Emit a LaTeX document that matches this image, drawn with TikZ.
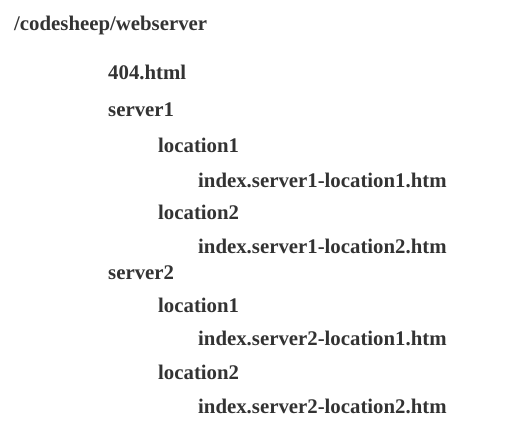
\documentclass[tikz,border=0pt]{standalone}
\usepackage{fontspec}
\setmainfont{Liberation Serif}
\usepackage{tikz}
\usetikzlibrary{positioning}
\definecolor{textgray}{HTML}{333333}

\begin{document}
\begin{tikzpicture}[
    x=1pt, y=1pt,
    entry/.style={anchor=base west, inner sep=0pt, text=textgray,
        font=\fontsize{20.8}{25}\selectfont\bfseries}
]
\useasboundingbox (0,0) rectangle (530,-432);

% Root directory
\node[entry] (root) at (14,-30) {/codesheep/webserver};

% Level 1
\node[entry] (page404) at (108,-79) {404.html};
\node[entry] (serverone) at (108,-116) {server1};
\node[entry] (servertwo) at (108,-279) {server2};

% Level 2 (server1)
\node[entry] (onelocone) at (158,-152) {location1};
\node[entry] (oneloctwo) at (158,-219) {location2};
\node[entry] (oneindexone) at (198,-187) {index.server1-location1.htm};
\node[entry] (oneindextwo) at (198,-253) {index.server1-location2.htm};

% Level 2 (server2)
\node[entry] (twolocone) at (158,-312) {location1};
\node[entry] (twoloctwo) at (158,-379) {location2};
\node[entry] (twoindexone) at (198,-345) {index.server2-location1.htm};
\node[entry] (twoindextwo) at (198,-413) {index.server2-location2.htm};

\end{tikzpicture}
\end{document}
